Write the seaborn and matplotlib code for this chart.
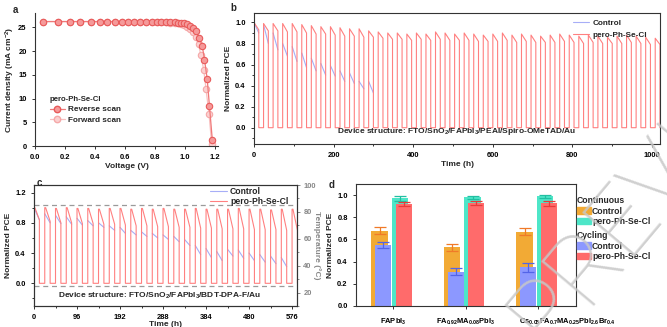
import numpy as np
import pandas as pd
import matplotlib
matplotlib.use("Agg")
import matplotlib.pyplot as plt
import matplotlib.transforms as mtransforms
import seaborn as sns
from matplotlib.ticker import MultipleLocator, FormatStrFormatter
from matplotlib.patches import Patch
from matplotlib.lines import Line2D

sns.set_theme(style="ticks")
plt.rcParams['font.family'] = ['Liberation Sans', 'DejaVu Sans']
plt.rcParams['font.weight'] = 'bold'
plt.rcParams['axes.labelweight'] = 'bold'
plt.rcParams['mathtext.fontset'] = 'custom'
plt.rcParams['mathtext.rm'] = 'Liberation Sans:bold'
plt.rcParams['mathtext.it'] = 'Liberation Sans:bold'
plt.rcParams['mathtext.bf'] = 'Liberation Sans:bold'

# ---------------- (a) J-V curves ----------------
v_rev = [0.05, 0.15, 0.23, 0.30, 0.37, 0.43, 0.48, 0.53, 0.58, 0.62, 0.66, 0.70, 0.74,
         0.78, 0.81, 0.84, 0.87, 0.90, 0.93, 0.95, 0.97, 0.99, 1.01, 1.03, 1.05, 1.07,
         1.095, 1.115, 1.13, 1.148, 1.163, 1.182]
j_rev = [26.2, 26.2, 26.2, 26.2, 26.2, 26.2, 26.2, 26.2, 26.2, 26.2, 26.2, 26.2, 26.2,
         26.2, 26.2, 26.2, 26.2, 26.1, 26.1, 26.0, 25.9, 25.8, 25.6, 25.3, 24.9, 24.2,
         22.8, 21.1, 18.2, 14.1, 8.4, 1.3]
v_fwd = [0.05, 0.15, 0.23, 0.30, 0.37, 0.43, 0.48, 0.53, 0.58, 0.62, 0.66, 0.70, 0.74,
         0.78, 0.81, 0.84, 0.87, 0.90, 0.93, 0.95, 0.97, 0.99, 1.01, 1.03, 1.05, 1.07,
         1.09, 1.105, 1.125, 1.14, 1.16, 1.178]
j_fwd = [26.2, 26.2, 26.2, 26.2, 26.2, 26.2, 26.2, 26.2, 26.2, 26.2, 26.2, 26.2, 26.2,
         26.2, 26.2, 26.1, 26.1, 26.0, 25.9, 25.8, 25.6, 25.4, 25.1, 24.6, 23.9, 23.0,
         21.4, 19.2, 16.0, 12.0, 6.8, 0.4]

# ---------------- (b) cycling, Spiro device (24 h period) ----------------
b_pero_peak = [1.00, 0.99, 0.99, 0.99, 0.99, 0.98, 0.97, 0.96, 0.96, 0.95, 0.94, 0.94, 0.92,
               0.91, 0.90, 0.90, 0.89, 0.90, 0.89, 0.91, 0.90, 0.89, 0.90, 0.89, 0.88, 0.89,
               0.90, 0.88, 0.89, 0.88, 0.87, 0.88, 0.89, 0.88, 0.87, 0.88, 0.87, 0.86, 0.87,
               0.88, 0.87, 0.86, 0.85]
b_pero_end = [0.93, 0.92, 0.92, 0.91, 0.91, 0.90, 0.89, 0.89, 0.88, 0.87, 0.87, 0.86, 0.86,
              0.85, 0.84, 0.84, 0.83, 0.84, 0.83, 0.84, 0.83, 0.83, 0.83, 0.82, 0.82, 0.82,
              0.83, 0.81, 0.82, 0.81, 0.81, 0.81, 0.82, 0.81, 0.80, 0.81, 0.80, 0.80, 0.80,
              0.81, 0.80, 0.79, 0.79]
b_ctrl_start = [1.00, 0.98, 0.90, 0.80, 0.77, 0.71, 0.66, 0.61, 0.59, 0.54, 0.52, 0.44, 0.44]
b_ctrl_end = [0.90, 0.80, 0.74, 0.68, 0.63, 0.57, 0.54, 0.50, 0.49, 0.44, 0.42, 0.37, 0.33]

# ---------------- (c) cycling with temperature, BDT-DPA-F device ----------------
c_pero_peak = [1.00, 1.00, 0.99, 1.00, 0.99, 0.99, 0.98, 0.99, 0.99, 0.98, 0.99, 0.98, 0.99,
               0.98, 0.98, 0.99, 0.98, 0.98, 0.98, 0.99, 0.98, 0.98, 0.97, 0.98, 0.98]
c_pero_end = [0.84, 0.82, 0.80, 0.80, 0.79, 0.79, 0.78, 0.78, 0.77, 0.76, 0.76, 0.75, 0.75,
              0.74, 0.74, 0.73, 0.73, 0.72, 0.72, 0.72, 0.71, 0.71, 0.71, 0.70, 0.70]
c_ctrl_start = [1.00, 0.92, 0.90, 0.88, 0.86, 0.83, 0.80, 0.76, 0.74, 0.70, 0.68, 0.66, 0.64,
                0.62, 0.58, 0.50, 0.46, 0.42, 0.45, 0.44, 0.40, 0.38, 0.36, 0.34]
c_ctrl_end = [0.84, 0.80, 0.79, 0.78, 0.77, 0.76, 0.74, 0.70, 0.66, 0.64, 0.62, 0.60, 0.58,
              0.55, 0.50, 0.38, 0.34, 0.30, 0.36, 0.33, 0.30, 0.28, 0.26, 0.22]
c_temps = [85, 25]

# ---------------- (d) summary bars ----------------
compositions = [r'FAPbI$_3$',
                r'FA$_{0.92}$MA$_{0.08}$PbI$_3$',
                r'Cs$_{0.05}$FA$_{0.7}$MA$_{0.25}$PbI$_{2.6}$Br$_{0.4}$']
cont_ctrl = [0.68, 0.53, 0.67]
cont_ctrl_err = [0.03, 0.03, 0.03]
cont_pero = [0.97, 0.98, 0.99]
cont_pero_err = [0.02, 0.015, 0.015]
cyc_ctrl = [0.55, 0.31, 0.35]
cyc_ctrl_err = [0.03, 0.03, 0.04]
cyc_pero = [0.92, 0.93, 0.925]
cyc_pero_err = [0.015, 0.015, 0.02]

RED = '#ff8080'
BLUE = '#a7aef7'
TICK = 5.4
LAB = 6.0


def square_cycles(peaks, ends, period, on, plateau=0.0):
    """Light/dark cycling trace: PCE decays while lit, drops to zero in the dark."""
    t, y = [], []
    for k, (p, e) in enumerate(zip(peaks, ends)):
        t0 = k * period
        t += [t0, t0]
        y += [0.0, p]
        if plateau:
            t.append(t0 + plateau)
            y.append(p)
        t += [t0 + on, t0 + on]
        y += [e, 0.0]
    return pd.DataFrame({'t': t, 'pce': y})


def lit_segments(starts, ends, period, on):
    rows = []
    for k, (s, e) in enumerate(zip(starts, ends)):
        rows.append((k * period, s, k))
        rows.append((k * period + on, e, k))
    return pd.DataFrame(rows, columns=['t', 'pce', 'seg'])


def style_axis(ax, box=True):
    for s in ax.spines.values():
        s.set_color('#333333')
        s.set_linewidth(0.8)
    if not box:
        ax.spines['top'].set_visible(False)
        ax.spines['right'].set_visible(False)
    ax.tick_params(which='both', direction='out', colors='#333333', labelsize=TICK,
                   labelcolor='black', width=0.7)
    ax.tick_params(which='major', length=2.5)
    ax.tick_params(which='minor', length=1.5)
    for lab in ax.get_xticklabels() + ax.get_yticklabels():
        lab.set_fontweight('bold')


fig = plt.figure(figsize=(6.67, 3.27), dpi=100)
W, H = 667.0, 327.0


def axes_px(l, t, r, b):
    return fig.add_axes([l / W, 1 - b / H, (r - l) / W, (b - t) / H])


# ---------- panel a ----------
ax_a = axes_px(35, 13, 218, 146)
df_rev = pd.DataFrame({'V': v_rev, 'J': j_rev})
df_fwd = pd.DataFrame({'V': v_fwd, 'J': j_fwd})
sns.lineplot(data=df_fwd, x='V', y='J', ax=ax_a, color='#f9c0c0', lw=0.9, marker='o',
             markersize=4.6, markerfacecolor='#fbd0d0', markeredgecolor='#f5a8a8',
             markeredgewidth=0.8, estimator=None, sort=False)
sns.lineplot(data=df_rev, x='V', y='J', ax=ax_a, color='#f07878', lw=0.9, marker='o',
             markersize=4.6, markerfacecolor='#f59a9a', markeredgecolor='#e85a5a',
             markeredgewidth=0.8, estimator=None, sort=False)
ax_a.set_xlim(0, 1.22)
ax_a.set_ylim(0, 28)
ax_a.xaxis.set_major_locator(MultipleLocator(0.2))
ax_a.yaxis.set_major_locator(MultipleLocator(5))
ax_a.xaxis.set_major_formatter(FormatStrFormatter('%.1f'))
ax_a.set_xlabel('Voltage (V)', fontsize=LAB, labelpad=1)
ax_a.set_ylabel(r'Current density (mA cm$^{-2}$)', fontsize=LAB, labelpad=1)
style_axis(ax_a, box=False)
h_a = [Line2D([], [], color='#f07878', lw=0.9, marker='o', markersize=4.6,
              markerfacecolor='#f59a9a', markeredgecolor='#e85a5a'),
       Line2D([], [], color='#f9c0c0', lw=0.9, marker='o', markersize=4.6,
              markerfacecolor='#fbd0d0', markeredgecolor='#f5a8a8')]
leg_a = ax_a.legend(h_a, ['Reverse scan', 'Forward scan'], title='pero-Ph-Se-Cl',
                    loc='upper left', bbox_to_anchor=(0.05, 0.42), frameon=False,
                    prop={'size': 5.9, 'weight': 'bold'},
                    title_fontproperties={'size': 5.6, 'weight': 'bold'},
                    handlelength=1.8, handletextpad=0.4, labelspacing=0.35, borderpad=0.2)
leg_a._legend_box.align = 'left'

# ---------- panel b ----------
ax_b = axes_px(254, 13, 660, 144)
df_b_ctrl = lit_segments(b_ctrl_start, b_ctrl_end, 24, 12)
df_b_pero = square_cycles(b_pero_peak, b_pero_end, 24, 12)
sns.lineplot(data=df_b_ctrl, x='t', y='pce', units='seg', estimator=None, ax=ax_b,
             color=BLUE, lw=0.8, sort=False)
sns.lineplot(data=df_b_pero, x='t', y='pce', estimator=None, ax=ax_b,
             color=RED, lw=0.8, sort=False)
ax_b.set_xlim(0, 1020)
ax_b.set_ylim(-0.155, 1.09)
ax_b.xaxis.set_major_locator(MultipleLocator(200))
ax_b.xaxis.set_minor_locator(MultipleLocator(100))
ax_b.yaxis.set_major_locator(MultipleLocator(0.2))
ax_b.yaxis.set_minor_locator(MultipleLocator(0.1))
ax_b.yaxis.set_major_formatter(FormatStrFormatter('%.1f'))
ax_b.set_xlabel('Time (h)', fontsize=LAB, labelpad=1)
ax_b.set_ylabel('Normalized PCE', fontsize=LAB, labelpad=2)
style_axis(ax_b)
ax_b.legend([Line2D([], [], color=BLUE, lw=0.8), Line2D([], [], color=RED, lw=0.8)],
            ['Control', 'pero-Ph-Se-Cl'], loc='upper right', bbox_to_anchor=(0.985, 1.0),
            frameon=False, prop={'size': 5.9, 'weight': 'bold'}, handlelength=2.0,
            handletextpad=0.4, labelspacing=0.45, borderpad=0.3)
ax_b.text(0.795, 0.05, 'Device structure: FTO/SnO$_2$/FAPbI$_3$/PEAI/Spiro-OMeTAD/Au',
          transform=ax_b.transAxes, ha='right', va='bottom', fontsize=6.0, fontweight='bold')

# ---------- panel c ----------
ax_c = axes_px(34, 185, 297, 306)
ax_t = ax_c.twinx()
for temp in c_temps:
    ax_t.axhline(temp, color='#9a9a9a', lw=0.9, ls=(0, (4, 3)), zorder=1)
ax_t.set_ylim(10, 100)
ax_t.yaxis.set_major_locator(MultipleLocator(20))
ax_t.yaxis.set_minor_locator(MultipleLocator(10))
ax_t.set_ylabel('Temperature (\u00b0C)', fontsize=LAB, color='#888888', rotation=270,
                labelpad=4)
ax_t.tick_params(axis='y', which='both', direction='out', colors='#888888',
                 labelsize=TICK, width=0.7, pad=2)
ax_t.tick_params(axis='y', which='major', length=2.5)
ax_t.tick_params(axis='y', which='minor', length=1.5)
for lab in ax_t.get_yticklabels():
    lab.set_fontweight('bold')
for s in ax_t.spines.values():
    s.set_color('#333333')
    s.set_linewidth(0.8)
ax_c.set_zorder(ax_t.get_zorder() + 1)
ax_c.patch.set_visible(False)

df_c_ctrl = lit_segments(c_ctrl_start, c_ctrl_end, 24, 12)
df_c_pero = square_cycles(c_pero_peak, c_pero_end, 24, 12, plateau=2)
sns.lineplot(data=df_c_ctrl, x='t', y='pce', units='seg', estimator=None, ax=ax_c,
             color=BLUE, lw=0.8, sort=False)
sns.lineplot(data=df_c_pero, x='t', y='pce', estimator=None, ax=ax_c,
             color=RED, lw=0.8, sort=False)
ax_c.set_xlim(0, 587)
ax_c.set_ylim(-0.3, 1.3)
ax_c.xaxis.set_major_locator(MultipleLocator(96))
ax_c.xaxis.set_minor_locator(MultipleLocator(48))
ax_c.yaxis.set_major_locator(MultipleLocator(0.4))
ax_c.yaxis.set_minor_locator(MultipleLocator(0.2))
ax_c.yaxis.set_major_formatter(FormatStrFormatter('%.1f'))
ax_c.set_xlabel('Time (h)', fontsize=LAB, labelpad=0)
ax_c.set_ylabel('Normalized PCE', fontsize=LAB, labelpad=2)
style_axis(ax_c)
ax_c.legend([Line2D([], [], color=BLUE, lw=0.8), Line2D([], [], color=RED, lw=0.8)],
            ['Control', 'pero-Ph-Se-Cl'], loc='upper right', bbox_to_anchor=(0.99, 1.03),
            frameon=False, prop={'size': 6.2, 'weight': 'bold'}, handlelength=2.0,
            handletextpad=0.3, labelspacing=0.1, borderpad=0.2)
ax_c.text(0.09, 0.04, 'Device structure: FTO/SnO$_2$/FAPbI$_3$/BDT-DPA-F/Au',
          transform=ax_c.transAxes, ha='left', va='bottom', fontsize=6.0, fontweight='bold')

# ---------- panel d ----------
ax_d = axes_px(356, 184, 576, 306)
pos = np.arange(len(compositions))
df_cont = pd.DataFrame({
    'x': np.concatenate([pos - 0.047, pos - 0.047]),
    'val': cont_ctrl + cont_pero,
    'err': cont_ctrl_err + cont_pero_err,
    'grp': ['Control'] * 3 + ['pero-Ph-Se-Cl'] * 3,
})
df_cyc = pd.DataFrame({
    'x': np.concatenate([pos + 0.003, pos + 0.003]),
    'val': cyc_ctrl + cyc_pero,
    'err': cyc_ctrl_err + cyc_pero_err,
    'grp': ['Control'] * 3 + ['pero-Ph-Se-Cl'] * 3,
})
cont_colors = {'Control': '#f2aa35', 'pero-Ph-Se-Cl': '#4ee6c8'}
cyc_colors = {'Control': '#8c98ff', 'pero-Ph-Se-Cl': '#ff6b6b'}
err_cont = {'Control': '#f07a28', 'pero-Ph-Se-Cl': '#22bfa2'}
err_cyc = {'Control': '#5364e8', 'pero-Ph-Se-Cl': '#e83a3a'}
for df_, pal, epal in [(df_cont, cont_colors, err_cont), (df_cyc, cyc_colors, err_cyc)]:
    n0 = len(ax_d.containers)
    sns.barplot(data=df_, x='x', y='val', hue='grp', palette=pal, native_scale=True,
                width=0.566, gap=0.2, dodge=True, errorbar=None, ax=ax_d,
                legend=False, saturation=1, linewidth=0)
    for cont, grp in zip(ax_d.containers[n0:], ['Control', 'pero-Ph-Se-Cl']):
        sub = df_[df_['grp'] == grp]
        xs = [p.get_x() + p.get_width() / 2 for p in cont.patches]
        ax_d.errorbar(xs, sub['val'].values, yerr=sub['err'].values, fmt='none',
                      ecolor=epal[grp], elinewidth=0.9, capsize=4, capthick=0.9, zorder=5)
ax_d.set_xlim(-0.515, 2.52)
ax_d.set_ylim(0, 1.1)
ax_d.set_xticks(pos)
ax_d.set_xticklabels(compositions)
ax_d.yaxis.set_major_locator(MultipleLocator(0.2))
ax_d.yaxis.set_major_formatter(FormatStrFormatter('%.1f'))
ax_d.set_xlabel('')
ax_d.set_ylabel('Normalized PCE', fontsize=LAB, labelpad=2)
style_axis(ax_d)
ax_d.tick_params(axis='x', pad=5)
# the long mixed-cation label sits to the right of its tick so the names don't collide
long_lab = ax_d.get_xticklabels()[2]
long_lab.set_transform(long_lab.get_transform() +
                       mtransforms.ScaledTranslation(0.29, 0, fig.dpi_scale_trans))

leg_kw = dict(loc='upper left', frameon=False, prop={'size': 6.2, 'weight': 'bold'},
              title_fontproperties={'size': 6.2, 'weight': 'bold'},
              handlelength=1.6, handleheight=0.8, handletextpad=0.15,
              labelspacing=0.15, borderpad=0.1, borderaxespad=0)
leg1 = ax_d.legend([Patch(color=cont_colors['Control']), Patch(color=cont_colors['pero-Ph-Se-Cl'])],
                   ['Control', 'pero-Ph-Se-Cl'], title='Continuous',
                   bbox_to_anchor=(1.0, 0.905), **leg_kw)
leg1._legend_box.align = 'left'
ax_d.add_artist(leg1)
leg2 = ax_d.legend([Patch(color=cyc_colors['Control']), Patch(color=cyc_colors['pero-Ph-Se-Cl'])],
                   ['Control', 'pero-Ph-Se-Cl'], title='Cycling',
                   bbox_to_anchor=(1.0, 0.62), **leg_kw)
leg2._legend_box.align = 'left'

# panel letters
for letter, (x, y) in {'a': (15, 10), 'b': (233, 8), 'c': (39, 183), 'd': (332, 185)}.items():
    fig.text(x / W, 1 - y / H, letter, fontsize=7, fontweight='bold', ha='center', va='center')

# faint diagonal watermark, thin strokes
fig.text(548 / W, 1 - 350 / H, 'PREVIEW', rotation=50, rotation_mode='anchor',
         ha='left', va='baseline', fontsize=70, family=['Roboto', 'DejaVu Sans'],
         fontweight='light', color='#c8c8c8', alpha=0.85, zorder=50)

fig.savefig('out.png', dpi=100)
